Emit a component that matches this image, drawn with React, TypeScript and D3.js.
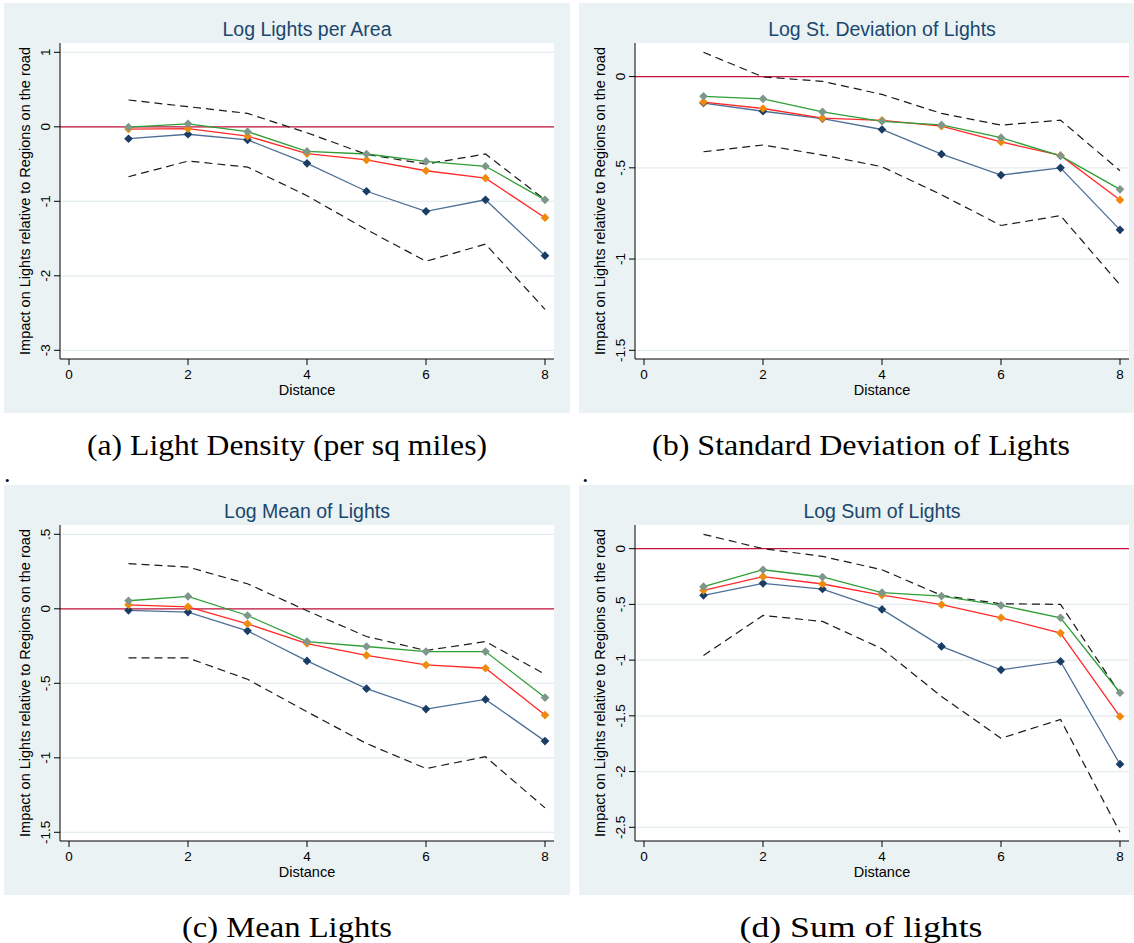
import React from 'react';
import * as d3 from 'd3';

// distance bins on the x axis
const distance = [1, 2, 3, 4, 5, 6, 7, 8];
const xTicks = [0, 2, 4, 6, 8];

const titles = ['Log Lights per Area', 'Log St. Deviation of Lights', 'Log Mean of Lights', 'Log Sum of Lights'];
const captions = ['(a) Light Density (per sq miles)', '(b) Standard Deviation of Lights', '(c) Mean Lights', '(d) Sum of lights'];

// (a) log lights per area
const areaTicks = [1, 0, -1, -2, -3];
const areaNavy = [-0.16, -0.1, -0.175, -0.49, -0.865, -1.135, -0.98, -1.73];
const areaRed = [-0.03, -0.025, -0.125, -0.36, -0.445, -0.59, -0.69, -1.22];
const areaGreen = [-0.005, 0.04, -0.065, -0.33, -0.365, -0.465, -0.53, -0.98];
const areaUpper = [0.36, 0.27, 0.18, -0.08, -0.37, -0.5, -0.365, -0.98];
const areaLower = [-0.67, -0.46, -0.54, -0.925, -1.38, -1.805, -1.575, -2.45];

// (b) log st. deviation of lights
const sdTicks = [0, -0.5, -1, -1.5];
const sdNavy = [-0.145, -0.19, -0.23, -0.29, -0.425, -0.54, -0.5, -0.84];
const sdRed = [-0.14, -0.175, -0.228, -0.24, -0.272, -0.358, -0.432, -0.676];
const sdGreen = [-0.108, -0.122, -0.193, -0.245, -0.265, -0.335, -0.435, -0.618];
const sdUpper = [0.133, -0.002, -0.026, -0.098, -0.202, -0.266, -0.239, -0.516];
const sdLower = [-0.412, -0.375, -0.43, -0.494, -0.648, -0.816, -0.762, -1.141];

// (c) log mean of lights
const meanTicks = [0.5, 0, -0.5, -1, -1.5];
const meanNavy = [-0.01, -0.022, -0.148, -0.35, -0.536, -0.673, -0.608, -0.888];
const meanRed = [0.027, 0.013, -0.101, -0.233, -0.312, -0.377, -0.399, -0.713];
const meanGreen = [0.054, 0.083, -0.045, -0.22, -0.253, -0.287, -0.287, -0.596];
const meanUpper = [0.303, 0.28, 0.168, -0.013, -0.186, -0.28, -0.22, -0.439];
const meanLower = [-0.33, -0.33, -0.473, -0.691, -0.904, -1.072, -0.993, -1.336];

// (d) log sum of lights
const sumTicks = [0, -0.5, -1, -1.5, -2, -2.5];
const sumNavy = [-0.419, -0.311, -0.362, -0.545, -0.877, -1.087, -1.012, -1.934];
const sumRed = [-0.374, -0.251, -0.317, -0.416, -0.503, -0.62, -0.757, -1.506];
const sumGreen = [-0.341, -0.189, -0.254, -0.395, -0.425, -0.509, -0.62, -1.293];
const sumUpper = [0.129, 0, -0.069, -0.189, -0.419, -0.494, -0.5, -1.3];
const sumLower = [-0.958, -0.599, -0.653, -0.898, -1.326, -1.701, -1.533, -2.545];

const panels = [
  { ticks: areaTicks, navy: areaNavy, red: areaRed, green: areaGreen, upper: areaUpper, lower: areaLower },
  { ticks: sdTicks, navy: sdNavy, red: sdRed, green: sdGreen, upper: sdUpper, lower: sdLower },
  { ticks: meanTicks, navy: meanNavy, red: meanRed, green: meanGreen, upper: meanUpper, lower: meanLower },
  { ticks: sumTicks, navy: sumNavy, red: sumRed, green: sumGreen, upper: sumUpper, lower: sumLower },
];

const W = 566;
const H = 410;
const M = { left: 56, right: 550, top: 40, bottom: 356 };
const origins = [[4, 3], [579, 3], [4, 485], [579, 485]];
// caption widths, the latex captions are wider than times
const capWidths = [400, 418, 210, 243];

const BG = '#eaf2f3';
const GRID = '#e3ecee';
const TITLE = '#1a476f';
const SANS = '"Liberation Sans", Arial, sans-serif';
const SERIF = '"Liberation Serif", "Times New Roman", serif';

// stata style: ".5", "-.5", "-1.5"
const fmt = (v: number) => {
  if (v === 0) return '0';
  const s = String(Math.abs(v)).replace(/^0\./, '.');
  return (v < 0 ? '-' : '') + s;
};

const diamond = d3.symbol().type(d3.symbolDiamond2).size(48)();

const Panel = ({ idx }: { idx: number }) => {
  const p = panels[idx];
  const [ox, oy] = origins[idx];

  const x = d3.scaleLinear().domain([0, 8]).range([M.left + 9, M.right - 9]);
  const all = [...p.ticks, ...p.navy, ...p.red, ...p.green, ...p.upper, ...p.lower];
  const [lo, hi] = d3.extent(all) as [number, number];
  const y = d3.scaleLinear().domain([hi, lo]).range([49.3, 347.3]);

  const line = (vals: number[]) =>
    d3.line<number>().x((_, i) => x(distance[i])).y((v) => y(v))(vals) || '';

  const series = [
    { vals: p.navy, stroke: '#4d6f96', fill: '#1a3d66' },
    { vals: p.red, stroke: '#ff2a2a', fill: '#f08a0c' },
    { vals: p.green, stroke: '#2f9e35', fill: '#7d978b' },
  ];

  const cx = (M.left + M.right) / 2;
  const cy = (M.top + M.bottom) / 2;

  return (
    <g transform={`translate(${ox},${oy})`}>
      <rect width={W} height={H} fill={BG} />
      <rect x={M.left} y={M.top} width={M.right - M.left} height={M.bottom - M.top} fill="#fff" />

      {/* gridlines */}
      {p.ticks.map((t) => (
        <line key={'g' + t} x1={M.left} x2={M.right} y1={y(t)} y2={y(t)} stroke={GRID} strokeWidth={1.2} />
      ))}

      {/* reference line at zero */}
      <line x1={M.left} x2={M.right} y1={y(0)} y2={y(0)} stroke="#c8143f" strokeWidth={1.3} />

      {/* confidence bands */}
      {[p.upper, p.lower].map((vals, i) => (
        <path key={'ci' + i} d={line(vals)} fill="none" stroke="#1a1a1a" strokeWidth={1.2} strokeDasharray="8,5" />
      ))}

      {series.map((s, i) => (
        <path key={'l' + i} d={line(s.vals)} fill="none" stroke={s.stroke} strokeWidth={1.3} />
      ))}
      {series.map((s, i) =>
        s.vals.map((v, j) => (
          <path key={'m' + i + '-' + j} d={diamond} transform={`translate(${x(distance[j])},${y(v)})`} fill={s.fill} />
        ))
      )}

      {/* y axis */}
      <line x1={M.left} x2={M.left} y1={M.top} y2={M.bottom} stroke="#000" strokeWidth={1} />
      {p.ticks.map((t) => (
        <g key={'yt' + t} transform={`translate(${M.left},${y(t)})`}>
          <line x1={-6} x2={0} stroke="#000" />
          <text
            transform="translate(-10,0) rotate(-90)"
            textAnchor="middle"
            fontFamily={SANS}
            fontSize={13.5}
            fill="#000"
          >
            {fmt(t)}
          </text>
        </g>
      ))}

      {/* x axis */}
      <line x1={M.left} x2={M.right} y1={M.bottom} y2={M.bottom} stroke="#000" strokeWidth={1} />
      {xTicks.map((t) => (
        <g key={'xt' + t} transform={`translate(${x(t)},${M.bottom})`}>
          <line y1={0} y2={6} stroke="#000" />
          <text y={20} textAnchor="middle" fontFamily={SANS} fontSize={13.5} fill="#000">
            {t}
          </text>
        </g>
      ))}

      <text x={cx} y={33} textAnchor="middle" fontFamily={SANS} fontSize={19.5} fill={TITLE}>
        {titles[idx]}
      </text>
      <text x={cx} y={H - 18} textAnchor="middle" fontFamily={SANS} fontSize={14.5} fill="#000">
        Distance
      </text>
      <text
        transform={`translate(26,${cy}) rotate(-90)`}
        textAnchor="middle"
        fontFamily={SANS}
        fontSize={14.5}
        fill="#000"
      >
        Impact on Lights relative to Regions on the road
      </text>
    </g>
  );
};

export default function App() {
  const capX = [287, 861];
  return (
    <svg
      width={1134}
      height={943}
      style={{ position: 'absolute', left: 0, top: 0, background: '#fff' }}
    >
      {panels.map((_, i) => (
        <Panel key={i} idx={i} />
      ))}
      {captions.map((c, i) => (
        <text
          key={c}
          x={capX[i % 2]}
          y={origins[i][1] + H + 42}
          textAnchor="middle"
          fontFamily={SERIF}
          fontSize={29}
          textLength={capWidths[i]}
          lengthAdjust="spacingAndGlyphs"
          fill="#000"
        >
          {c}
        </text>
      ))}
      {[4, 582].map((dx) => (
        <text key={dx} x={dx} y={482} fontFamily={SERIF} fontSize={26} fill="#000">
          .
        </text>
      ))}
    </svg>
  );
}
